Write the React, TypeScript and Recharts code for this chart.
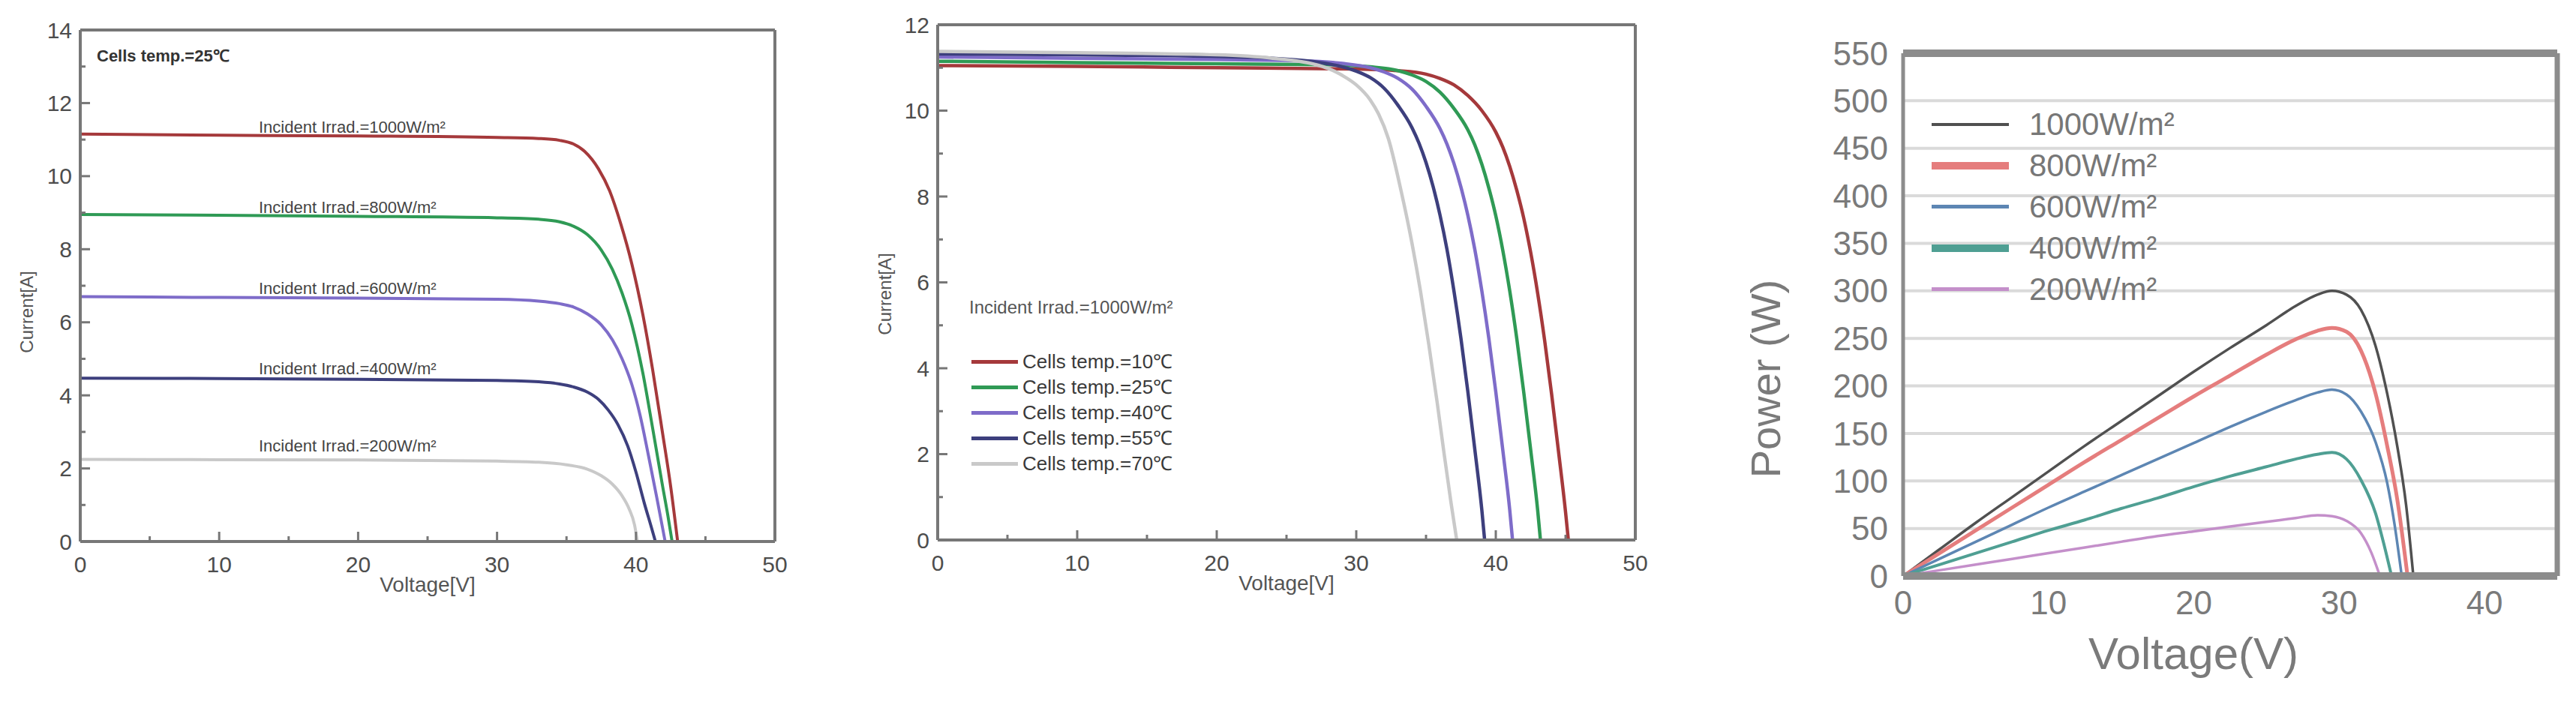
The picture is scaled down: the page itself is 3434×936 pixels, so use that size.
import React from 'react'
import { LineChart, Line, XAxis, YAxis, CartesianGrid, Legend } from 'recharts'

// ---- left panel: I-V at 25℃ for several irradiances (v = volts, i = amps)
const irr1000 = [
	{ v: 0, i: 11.15 }, { v: 10, i: 11.12 }, { v: 20, i: 11.1 }, { v: 30, i: 11.06 }, { v: 33, i: 11.03 },
	{ v: 34.5, i: 10.98 }, { v: 35.5, i: 10.88 }, { v: 36.3, i: 10.68 }, { v: 37.3, i: 10.2 }, { v: 38.1, i: 9.6 },
	{ v: 38.9, i: 8.7 }, { v: 39.7, i: 7.6 }, { v: 40.5, i: 6.2 }, { v: 41.2, i: 4.7 }, { v: 41.9, i: 3.0 },
	{ v: 42.5, i: 1.5 }, { v: 43, i: 0 },
]
const irr800 = [
	{ v: 0, i: 8.95 }, { v: 10, i: 8.93 }, { v: 20, i: 8.9 }, { v: 30, i: 8.86 }, { v: 33, i: 8.82 },
	{ v: 34.5, i: 8.75 }, { v: 35.5, i: 8.63 }, { v: 36.5, i: 8.4 }, { v: 37.5, i: 7.98 }, { v: 38.3, i: 7.45 },
	{ v: 39, i: 6.8 }, { v: 39.7, i: 5.95 }, { v: 40.5, i: 4.6 }, { v: 41.2, i: 3.1 }, { v: 41.9, i: 1.55 },
	{ v: 42.3, i: 0.7 }, { v: 42.6, i: 0 },
]
const irr600 = [
	{ v: 0, i: 6.7 }, { v: 10, i: 6.68 }, { v: 20, i: 6.66 }, { v: 30, i: 6.63 }, { v: 33, i: 6.58 },
	{ v: 34.5, i: 6.51 }, { v: 35.5, i: 6.42 }, { v: 36.5, i: 6.23 }, { v: 37.5, i: 5.93 }, { v: 38.3, i: 5.52 },
	{ v: 39, i: 5.0 }, { v: 39.7, i: 4.3 }, { v: 40.3, i: 3.45 }, { v: 40.9, i: 2.35 }, { v: 41.5, i: 1.2 },
	{ v: 42.1, i: 0 },
]
const irr400 = [
	{ v: 0, i: 4.47 }, { v: 10, i: 4.46 }, { v: 20, i: 4.44 }, { v: 30, i: 4.41 }, { v: 33, i: 4.37 },
	{ v: 34.5, i: 4.31 }, { v: 35.5, i: 4.23 }, { v: 36.5, i: 4.09 }, { v: 37.3, i: 3.89 }, { v: 38, i: 3.6 },
	{ v: 38.7, i: 3.2 }, { v: 39.4, i: 2.62 }, { v: 40, i: 1.9 }, { v: 40.6, i: 1.05 }, { v: 41.1, i: 0.4 },
	{ v: 41.4, i: 0 },
]
const irr200 = [
	{ v: 0, i: 2.25 }, { v: 10, i: 2.24 }, { v: 20, i: 2.23 }, { v: 30, i: 2.2 }, { v: 33, i: 2.17 },
	{ v: 35, i: 2.1 }, { v: 36.5, i: 1.98 }, { v: 37.5, i: 1.8 }, { v: 38.3, i: 1.57 }, { v: 39, i: 1.25 },
	{ v: 39.5, i: 0.9 }, { v: 39.9, i: 0.45 }, { v: 40.1, i: 0 },
]

// ---- middle panel: I-V at 1000W/m² for several cell temperatures
const temp10 = [
	{ v: 0, i: 11.05 }, { v: 10, i: 11.03 }, { v: 20, i: 11.0 }, { v: 30, i: 10.97 }, { v: 33, i: 10.93 },
	{ v: 35, i: 10.85 }, { v: 36, i: 10.75 }, { v: 37, i: 10.6 }, { v: 38, i: 10.35 }, { v: 39, i: 10.0 },
	{ v: 40, i: 9.5 }, { v: 40.5, i: 9.15 }, { v: 41, i: 8.7 }, { v: 41.5, i: 8.15 }, { v: 42, i: 7.5 },
	{ v: 42.5, i: 6.7 }, { v: 43, i: 5.75 }, { v: 43.5, i: 4.65 }, { v: 44, i: 3.4 }, { v: 44.5, i: 2.05 },
	{ v: 45, i: 0.65 }, { v: 45.2, i: 0 },
]
const temp25 = [
	{ v: 0, i: 11.15 }, { v: 10, i: 11.12 }, { v: 20, i: 11.09 }, { v: 28, i: 11.07 }, { v: 31, i: 11.02 },
	{ v: 33, i: 10.93 }, { v: 34, i: 10.83 }, { v: 35, i: 10.68 }, { v: 36, i: 10.43 }, { v: 37, i: 10.05 },
	{ v: 38, i: 9.55 }, { v: 38.5, i: 9.2 }, { v: 39, i: 8.75 }, { v: 39.5, i: 8.2 }, { v: 40, i: 7.55 },
	{ v: 40.5, i: 6.75 }, { v: 41, i: 5.8 }, { v: 41.5, i: 4.7 }, { v: 42, i: 3.45 }, { v: 42.5, i: 2.1 },
	{ v: 43, i: 0.7 }, { v: 43.2, i: 0 },
]
const temp40 = [
	{ v: 0, i: 11.25 }, { v: 10, i: 11.22 }, { v: 20, i: 11.19 }, { v: 26, i: 11.16 }, { v: 29, i: 11.1 },
	{ v: 31, i: 11.0 }, { v: 32, i: 10.9 }, { v: 33, i: 10.75 }, { v: 34, i: 10.5 }, { v: 35, i: 10.1 },
	{ v: 36, i: 9.58 }, { v: 36.5, i: 9.22 }, { v: 37, i: 8.77 }, { v: 37.5, i: 8.22 }, { v: 38, i: 7.56 },
	{ v: 38.5, i: 6.76 }, { v: 39, i: 5.8 }, { v: 39.5, i: 4.7 }, { v: 40, i: 3.45 }, { v: 40.5, i: 2.1 },
	{ v: 41, i: 0.7 }, { v: 41.2, i: 0 },
]
const temp55 = [
	{ v: 0, i: 11.32 }, { v: 10, i: 11.3 }, { v: 20, i: 11.26 }, { v: 24, i: 11.22 }, { v: 27, i: 11.14 },
	{ v: 29, i: 11.02 }, { v: 30, i: 10.92 }, { v: 31, i: 10.77 }, { v: 32, i: 10.52 }, { v: 33, i: 10.12 },
	{ v: 34, i: 9.6 }, { v: 34.5, i: 9.24 }, { v: 35, i: 8.79 }, { v: 35.5, i: 8.24 }, { v: 36, i: 7.57 },
	{ v: 36.5, i: 6.77 }, { v: 37, i: 5.8 }, { v: 37.5, i: 4.7 }, { v: 38, i: 3.45 }, { v: 38.5, i: 2.1 },
	{ v: 39, i: 0.7 }, { v: 39.2, i: 0 },
]
const temp70 = [
	{ v: 0, i: 11.38 }, { v: 10, i: 11.35 }, { v: 20, i: 11.3 }, { v: 24, i: 11.22 }, { v: 27, i: 11.08 },
	{ v: 28, i: 10.98 }, { v: 29, i: 10.82 }, { v: 30, i: 10.6 }, { v: 31, i: 10.25 }, { v: 31.6, i: 9.92 },
	{ v: 32.3, i: 9.35 }, { v: 33.2, i: 8.15 }, { v: 34, i: 6.9 }, { v: 34.6, i: 5.8 }, { v: 35.2, i: 4.55 },
	{ v: 35.8, i: 3.2 }, { v: 36.3, i: 2.0 }, { v: 36.8, i: 0.85 }, { v: 37.2, i: 0 },
]

// ---- right panel: P-V for several irradiances (p = watts)
const pow1000 = [
	{ v: 0, p: 0 }, { v: 2.5, p: 28 }, { v: 5, p: 56 }, { v: 7.5, p: 83 }, { v: 10, p: 110 }, { v: 12.5, p: 137 },
	{ v: 15, p: 163 }, { v: 17.5, p: 189 }, { v: 20, p: 215 }, { v: 22.5, p: 240 }, { v: 25, p: 264 },
	{ v: 27, p: 284 }, { v: 28.5, p: 296 }, { v: 29.5, p: 300 }, { v: 30.5, p: 296 }, { v: 31.5, p: 280 },
	{ v: 32.5, p: 242 }, { v: 33.3, p: 192 }, { v: 34, p: 136 }, { v: 34.6, p: 75 }, { v: 35.1, p: 0 },
]
const pow800 = [
	{ v: 0, p: 0 }, { v: 2.5, p: 24 }, { v: 5, p: 48 }, { v: 7.5, p: 72 }, { v: 10, p: 96 }, { v: 12.5, p: 120 },
	{ v: 15, p: 143 }, { v: 17.5, p: 166 }, { v: 20, p: 189 }, { v: 22.5, p: 211 }, { v: 25, p: 233 },
	{ v: 27, p: 249 }, { v: 28.5, p: 258 }, { v: 29.5, p: 261 }, { v: 30.5, p: 257 }, { v: 31.5, p: 237 },
	{ v: 32.5, p: 192 }, { v: 33.3, p: 137 }, { v: 34, p: 80 }, { v: 34.7, p: 0 },
]
const pow600 = [
	{ v: 0, p: 0 }, { v: 2.5, p: 18 }, { v: 5, p: 36 }, { v: 7.5, p: 54 }, { v: 10, p: 72 }, { v: 12.5, p: 89 },
	{ v: 15, p: 106 }, { v: 17.5, p: 123 }, { v: 20, p: 140 }, { v: 22.5, p: 157 }, { v: 25, p: 173 },
	{ v: 27, p: 185 }, { v: 28.5, p: 193 }, { v: 29.5, p: 196 }, { v: 30.5, p: 191 }, { v: 31.5, p: 173 },
	{ v: 32.5, p: 141 }, { v: 33.3, p: 98 }, { v: 33.8, p: 55 }, { v: 34.3, p: 0 },
]
const pow400 = [
	{ v: 0, p: 0 }, { v: 2.5, p: 12 }, { v: 5, p: 24 }, { v: 7.5, p: 36 }, { v: 10, p: 48 }, { v: 12.5, p: 59 },
	{ v: 15, p: 71 }, { v: 17.5, p: 82 }, { v: 20, p: 94 }, { v: 22.5, p: 105 }, { v: 25, p: 115 },
	{ v: 27, p: 123 }, { v: 28.5, p: 128 }, { v: 29.5, p: 130 }, { v: 30.5, p: 123 }, { v: 31.5, p: 101 },
	{ v: 32.5, p: 66 }, { v: 33.1, p: 32 }, { v: 33.6, p: 0 },
]
const pow200 = [
	{ v: 0, p: 0 }, { v: 2.5, p: 6 }, { v: 5, p: 12 }, { v: 7.5, p: 18 }, { v: 10, p: 24 }, { v: 12.5, p: 30 },
	{ v: 15, p: 36 }, { v: 17.5, p: 42 }, { v: 20, p: 47 }, { v: 22.5, p: 52 }, { v: 25, p: 57 },
	{ v: 27, p: 61 }, { v: 28.5, p: 64 }, { v: 29.5, p: 63 }, { v: 30.5, p: 58 }, { v: 31.5, p: 45 },
	{ v: 32.2, p: 25 }, { v: 32.8, p: 0 },
]

const voltTicks = [0, 5, 10, 15, 20, 25, 30, 35, 40, 45, 50]
const currTicksA = [0, 1, 2, 3, 4, 5, 6, 7, 8, 9, 10, 11, 12, 13, 14]
const currTicksB = [0, 1, 2, 3, 4, 5, 6, 7, 8, 9, 10, 11, 12]
const powerTicks = [0, 50, 100, 150, 200, 250, 300, 350, 400, 450, 500, 550]
const powerVoltTicks = [0, 10, 20, 30, 40]

const irradianceSeries = [
	{ label: 'Incident Irrad.=1000W/m²', color: '#a5393b', data: irr1000 },
	{ label: 'Incident Irrad.=800W/m²', color: '#2f9a55', data: irr800 },
	{ label: 'Incident Irrad.=600W/m²', color: '#7e6cc9', data: irr600 },
	{ label: 'Incident Irrad.=400W/m²', color: '#3d3f7d', data: irr400 },
	{ label: 'Incident Irrad.=200W/m²', color: '#c9c9c9', data: irr200 },
]
const temperatureSeries = [
	{ label: 'Cells temp.=10℃', color: '#a5393b', data: temp10 },
	{ label: 'Cells temp.=25℃', color: '#2f9a55', data: temp25 },
	{ label: 'Cells temp.=40℃', color: '#7e6cc9', data: temp40 },
	{ label: 'Cells temp.=55℃', color: '#3d3f7d', data: temp55 },
	{ label: 'Cells temp.=70℃', color: '#c9c9c9', data: temp70 },
]
const powerSeries = [
	{ label: '1000W/m²', color: '#505050', width: 3.5, keyWidth: 4, data: pow1000 },
	{ label: '800W/m²', color: '#e57d7d', width: 5, keyWidth: 10, data: pow800 },
	{ label: '600W/m²', color: '#5d86b3', width: 3.5, keyWidth: 5, data: pow600 },
	{ label: '400W/m²', color: '#4f9f93', width: 4, keyWidth: 10, data: pow400 },
	{ label: '200W/m²', color: '#c48fca', width: 3.5, keyWidth: 5, data: pow200 },
]

const FONT = '"Liberation Sans", Arial, Helvetica, sans-serif'
const FRAME = '#777'

// ticks drawn inside the box, long ones carry a label
const frameTick = (side: string, every: number, label: boolean) => (props: any) => {
	const { x, y, payload } = props
	const v = payload.value
	const major = Math.abs(v / every - Math.round(v / every)) < 1e-6
	const len = major ? 13 : 7
	let end = { x, y }
	if (side === 'bottom') end = { x, y: y - len }
	if (side === 'top') end = { x, y: y + len }
	if (side === 'left') end = { x: x + len, y }
	if (side === 'right') end = { x: x - len, y }
	return (
		<g>
			<line x1={x} y1={y} x2={end.x} y2={end.y} stroke={FRAME} strokeWidth={3} />
			{label && major && side === 'bottom' && (
				<text x={x} y={y + 30} dy="0.35em" textAnchor="middle" fontSize={30} fontFamily={FONT} fill="#4d4d4d">{v}</text>
			)}
			{label && major && side === 'left' && (
				<text x={x - 11} y={y} dy="0.35em" textAnchor="end" fontSize={30} fontFamily={FONT} fill="#4d4d4d">{v}</text>
			)}
		</g>
	)
}

const Note = ({ x, y, size, color = '#444', bold = false, center = false, rotate = false, children }: any) => (
	<div
		style={{
			position: 'absolute',
			left: x,
			top: y,
			transform: rotate ? 'translate(-50%,-50%) rotate(-90deg)' : center ? 'translate(-50%,-50%)' : 'translateY(-50%)',
			fontFamily: FONT,
			fontSize: size,
			fontWeight: bold ? 'bold' : 'normal',
			color,
			whiteSpace: 'nowrap',
			lineHeight: 1,
		}}
	>
		{children}
	</div>
)

// box with inward ticks on all four sides
const IVFrame = ({ yMax, yTicks, yWidth }: any) => [
	<XAxis key="xb" xAxisId="b" type="number" dataKey="v" domain={[0, 50]} ticks={voltTicks} interval={0} height={60}
		tickSize={0} tickMargin={0} tickLine={false} axisLine={{ stroke: FRAME, strokeWidth: 4 }} tick={frameTick('bottom', 10, true)} />,
	<XAxis key="xt" xAxisId="t" orientation="top" type="number" dataKey="v" domain={[0, 50]} ticks={voltTicks} interval={0} height={1}
		tickSize={0} tickMargin={0} tickLine={false} axisLine={{ stroke: FRAME, strokeWidth: 4 }} tick={frameTick('top', 10, false)} />,
	<YAxis key="yl" yAxisId="l" type="number" domain={[0, yMax]} ticks={yTicks} interval={0} width={yWidth}
		tickSize={0} tickMargin={0} tickLine={false} axisLine={{ stroke: FRAME, strokeWidth: 4 }} tick={frameTick('left', 2, true)} />,
	<YAxis key="yr" yAxisId="r" orientation="right" type="number" domain={[0, yMax]} ticks={yTicks} interval={0} width={1}
		tickSize={0} tickMargin={0} tickLine={false} axisLine={{ stroke: FRAME, strokeWidth: 4 }} tick={frameTick('right', 2, false)} />,
]

const TempLegend = () => (
	<div style={{ fontFamily: FONT }}>
		{temperatureSeries.map((s) => (
			<div key={s.label} style={{ display: 'flex', alignItems: 'center', height: 34 }}>
				<div style={{ width: 62, height: 5, background: s.color, marginRight: 6 }} />
				<span style={{ fontSize: 26, color: '#3a3a3a', lineHeight: 1 }}>{s.label}</span>
			</div>
		))}
	</div>
)

const PowerLegend = () => (
	<div style={{ fontFamily: FONT }}>
		{powerSeries.map((s) => (
			<div key={s.label} style={{ display: 'flex', alignItems: 'center', height: 55 }}>
				<div style={{ width: 103, height: s.keyWidth, background: s.color, marginRight: 27 }} />
				<span style={{ fontSize: 42, color: '#777', lineHeight: 1 }}>{s.label}</span>
			</div>
		))}
	</div>
)

export default function App() {
	return (
		<div style={{ position: 'absolute', left: 0, top: 0, width: 3434, height: 936, background: '#fff', overflow: 'hidden' }}>
			{/* left panel */}
			<div style={{ position: 'absolute', left: 0, top: 0 }}>
				<LineChart width={1100} height={830} margin={{ top: 39, right: 66, bottom: 48, left: 0 }}>
					{IVFrame({ yMax: 14, yTicks: currTicksA, yWidth: 107 })}
					{irradianceSeries.map((s) => (
						<Line key={s.label} xAxisId="b" yAxisId="l" data={s.data} dataKey="i" type="monotone"
							stroke={s.color} strokeWidth={4} dot={false} activeDot={false} isAnimationActive={false} />
					))}
				</LineChart>
			</div>
			<Note x={129} y={75} size={22} bold color="#333">Cells temp.=25℃</Note>
			<Note x={345} y={170} size={22}>{irradianceSeries[0].label}</Note>
			<Note x={345} y={277} size={22}>{irradianceSeries[1].label}</Note>
			<Note x={345} y={385} size={22}>{irradianceSeries[2].label}</Note>
			<Note x={345} y={492} size={22}>{irradianceSeries[3].label}</Note>
			<Note x={345} y={595} size={22}>{irradianceSeries[4].label}</Note>
			<Note x={36} y={416} size={24} color="#555" rotate>Current[A]</Note>
			<Note x={570} y={780} size={28} color="#555" center>Voltage[V]</Note>

			{/* middle panel */}
			<div style={{ position: 'absolute', left: 1130, top: 0 }}>
				<LineChart width={1110} height={830} margin={{ top: 32, right: 59, bottom: 50, left: 0 }}>
					{IVFrame({ yMax: 12, yTicks: currTicksB, yWidth: 120 })}
					{temperatureSeries.map((s) => (
						<Line key={s.label} xAxisId="b" yAxisId="l" data={s.data} dataKey="i" type="monotone"
							stroke={s.color} strokeWidth={4.5} dot={false} activeDot={false} isAnimationActive={false} />
					))}
					<Legend layout="vertical" align="center" verticalAlign="middle" content={TempLegend}
						wrapperStyle={{ left: 165, top: 465, width: 'auto' }} />
				</LineChart>
			</div>
			<Note x={1292} y={410} size={24} color="#555">Incident Irrad.=1000W/m²</Note>
			<Note x={1180} y={392} size={24} color="#555" rotate>Current[A]</Note>
			<Note x={1715} y={778} size={28} color="#555" center>Voltage[V]</Note>

			{/* right panel */}
			<div style={{ position: 'absolute', left: 2300, top: 0 }}>
				<LineChart width={1134} height={936} margin={{ top: 70, right: 24, bottom: 88, left: 0 }}>
					<CartesianGrid xAxisId="b" yAxisId="l" vertical={false} stroke="#dadada" strokeWidth={4} />
					<XAxis xAxisId="b" type="number" dataKey="v" domain={[0, 45]} ticks={powerVoltTicks} interval={0} height={80}
						tickSize={0} tickMargin={20} tickLine={false} axisLine={{ stroke: '#8c8c8c', strokeWidth: 10 }}
						tick={{ fill: '#7a7a7a', fontSize: 44, fontFamily: FONT }} />
					<XAxis xAxisId="t" orientation="top" type="number" dataKey="v" domain={[0, 45]} ticks={powerVoltTicks} height={1}
						tickSize={0} tickLine={false} axisLine={{ stroke: '#8c8c8c', strokeWidth: 10 }} tick={false} />
					<YAxis yAxisId="l" type="number" domain={[0, 550]} ticks={powerTicks} interval={0} width={237}
						tickSize={0} tickMargin={20} tickLine={false} axisLine={{ stroke: '#8c8c8c', strokeWidth: 5 }}
						tick={{ fill: '#7a7a7a', fontSize: 44, fontFamily: FONT }} />
					<YAxis yAxisId="r" orientation="right" type="number" domain={[0, 550]} ticks={powerTicks} width={1}
						tickSize={0} tickLine={false} axisLine={{ stroke: '#8c8c8c', strokeWidth: 7 }} tick={false} />
					{powerSeries.map((s) => (
						<Line key={s.label} xAxisId="b" yAxisId="l" data={s.data} dataKey="p" type="monotone"
							stroke={s.color} strokeWidth={s.width} dot={false} activeDot={false} isAnimationActive={false} />
					))}
					<Legend layout="vertical" align="center" verticalAlign="middle" content={PowerLegend}
						wrapperStyle={{ left: 275, top: 138, width: 'auto' }} />
				</LineChart>
			</div>
			<Note x={2354} y={505} size={56} color="#7a7a7a" rotate>Power (W)</Note>
			<Note x={2924} y={872} size={60} color="#7a7a7a" center>Voltage(V)</Note>
		</div>
	)
}
